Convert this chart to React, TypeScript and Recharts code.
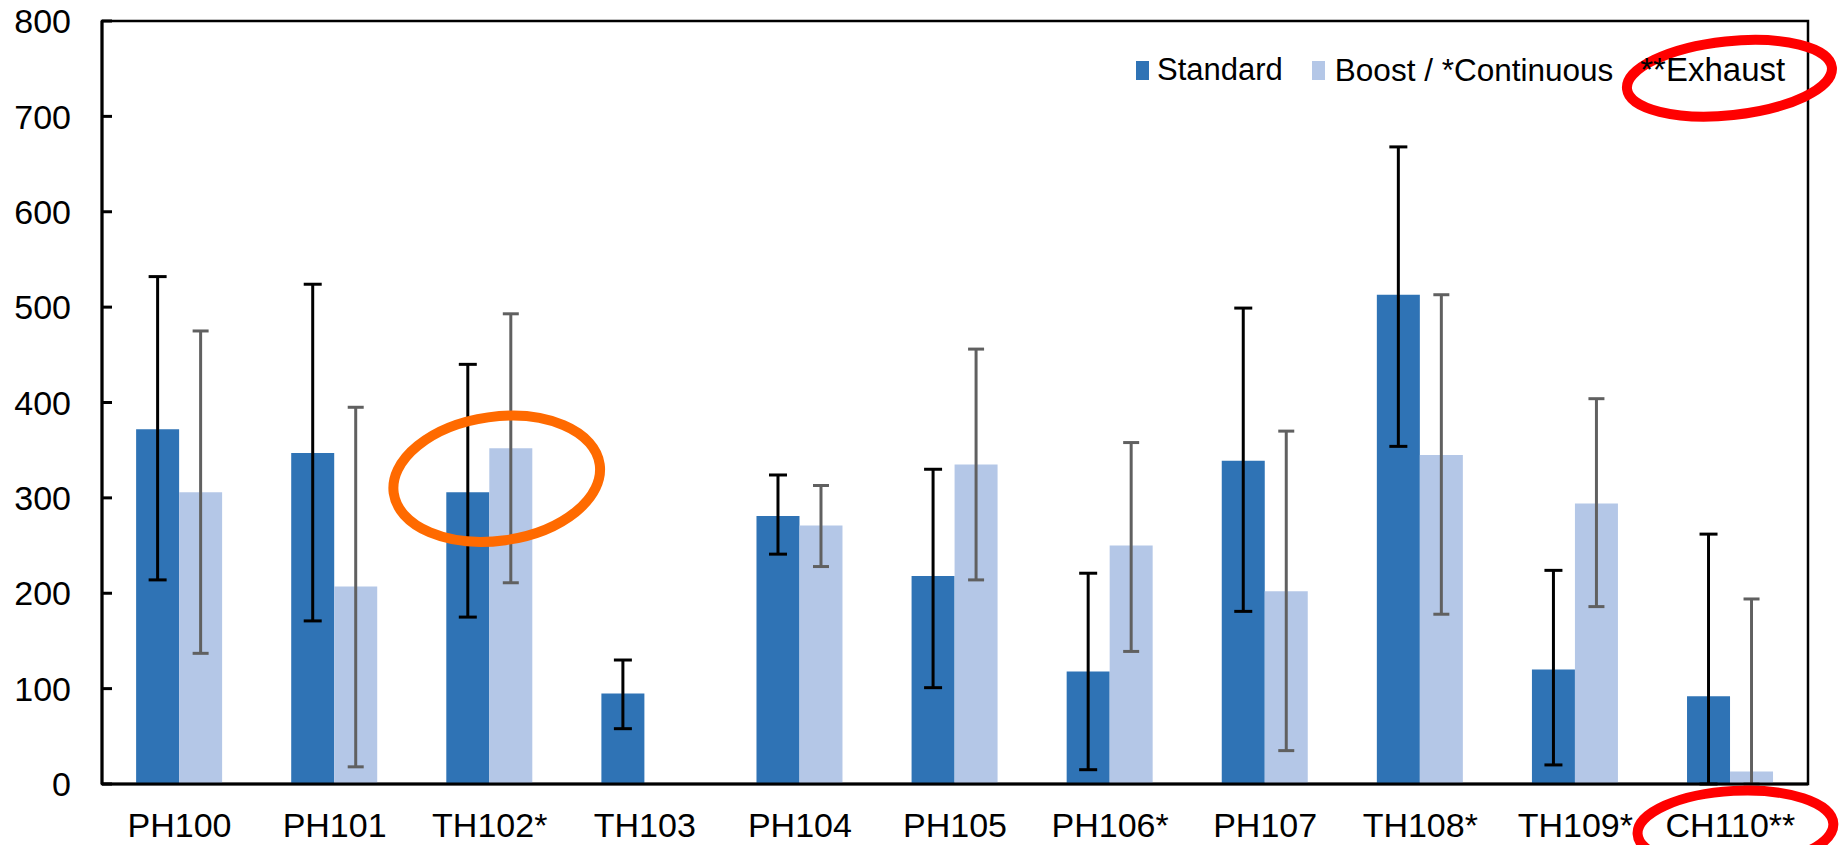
import React from 'react';
import {
  BarChart,
  Bar,
  XAxis,
  YAxis,
  ErrorBar,
  Legend,
  ReferenceArea,
  ReferenceDot,
} from 'recharts';

const categories = ['PH100', 'PH101', 'TH102*', 'TH103', 'PH104', 'PH105', 'PH106*', 'PH107', 'TH108*', 'TH109*', 'CH110**'];

// Standard series: bar value plus the ends of its error bar
const standard = [372, 347, 306, 95, 281, 218, 118, 339, 513, 120, 92];
const standardHigh = [532, 524, 440, 130, 324, 330, 221, 499, 668, 224, 262];
const standardLow = [214, 171, 175, 58, 241, 101, 15, 181, 354, 20, 0];

// Boost / *Continuous series (TH103 has none)
const boost = [306, 207, 352, null, 271, 335, 250, 202, 345, 294, 13];
const boostHigh = [475, 395, 493, null, 313, 456, 358, 370, 513, 404, 194];
const boostLow = [137, 18, 211, null, 228, 214, 139, 35, 178, 186, 0];

const yTicks = [0, 100, 200, 300, 400, 500, 600, 700, 800];

const DARK = '#2f73b5';
const LIGHT = '#b4c7e7';
const FONT = '"Liberation Sans", Arial, Helvetica, sans-serif';

const rows = categories.map((name, i) => ({
  name,
  standard: standard[i],
  standardErr: [standard[i] - standardLow[i], standardHigh[i] - standard[i]],
  boost: boost[i],
  boostErr: boost[i] == null ? null : [boost[i]! - boostLow[i]!, boostHigh[i]! - boost[i]!],
}));

const YTick = (props: any) => {
  const { x, y, payload } = props;
  return (
    <g>
      <line x1={x} x2={x + 10} y1={y} y2={y} stroke='#000' strokeWidth={3} />
      <text x={x - 31} y={y} dy='0.36em' textAnchor='end' fontSize={34} fill='#000' fontFamily={FONT}>
        {payload.value}
      </text>
    </g>
  );
};

const LegendContent = () => (
  <div style={{ display: 'flex', alignItems: 'center', fontFamily: FONT, fontSize: 31, lineHeight: '34px', color: '#000', whiteSpace: 'nowrap' }}>
    <span style={{ display: 'inline-block', width: 13, height: 19, background: DARK, marginRight: 8 }} />
    <span>Standard</span>
    <span style={{ display: 'inline-block', width: 13, height: 19, background: LIGHT, marginLeft: 29, marginRight: 10 }} />
    <span style={{ fontSize: 31.5 }}>Boost / *Continuous</span>
    <span style={{ marginLeft: 27, fontSize: 33 }}>**Exhaust</span>
  </div>
);

const ring = (color: string, rx: number, ry: number, rot: number, dx: number) => (props: any) => {
  const cx = props.cx + dx;
  const cy = props.cy;
  return (
    <ellipse
      cx={cx}
      cy={cy}
      rx={rx}
      ry={ry}
      transform={`rotate(${rot} ${cx} ${cy})`}
      fill='none'
      stroke={color}
      strokeWidth={10}
    />
  );
};

const App = () => {
  return (
    <div style={{ position: 'fixed', left: 0, top: 0, fontFamily: FONT, background: '#fff' }}>
      <BarChart
        width={1844}
        height={845}
        data={rows}
        margin={{ top: 21, right: 36, bottom: 0, left: 0 }}
        barCategoryGap='22%'
        barGap={0}
      >
        <ReferenceArea y1={0} y2={800} fill='none' stroke='#000' strokeWidth={2.5} />
        <XAxis
          dataKey='name'
          height={61}
          interval={0}
          tickLine={false}
          tickSize={0}
          tickMargin={29}
          axisLine={{ stroke: '#000', strokeWidth: 3 }}
          tick={{ fill: '#000', fontSize: 34, fontFamily: FONT }}
        />
        <YAxis
          width={102}
          domain={[0, 800]}
          ticks={yTicks}
          interval={0}
          tickLine={false}
          tickSize={0}
          tickMargin={0}
          axisLine={{ stroke: '#000', strokeWidth: 3 }}
          tick={<YTick />}
        />
        <Legend
          layout='horizontal'
          verticalAlign='middle'
          align='center'
          content={<LegendContent />}
          wrapperStyle={{ position: 'absolute', left: 1136, top: 53, width: 'auto', height: 'auto' }}
        />
        <Bar dataKey='standard' name='Standard' fill={DARK} isAnimationActive={false}>
          <ErrorBar dataKey='standardErr' width={9} stroke='#000' strokeWidth={3} direction='y' />
        </Bar>
        <Bar dataKey='boost' name='Boost / *Continuous' fill={LIGHT} isAnimationActive={false}>
          <ErrorBar dataKey='boostErr' width={8} stroke='#606060' strokeWidth={3} direction='y' />
        </Bar>
        <ReferenceDot x='TH102*' y={320} r={1} ifOverflow='visible' shape={ring('#ff6a00', 104, 62, -8, 7)} />
        <ReferenceDot x='CH110**' y={740} r={1} ifOverflow='visible' shape={ring('#ff0000', 103, 37, -6, -1)} />
        <ReferenceDot x='CH110**' y={-47} r={1} ifOverflow='visible' shape={ring('#ff0000', 98, 38, -3, 5)} />
      </BarChart>
    </div>
  );
};

export default App;
